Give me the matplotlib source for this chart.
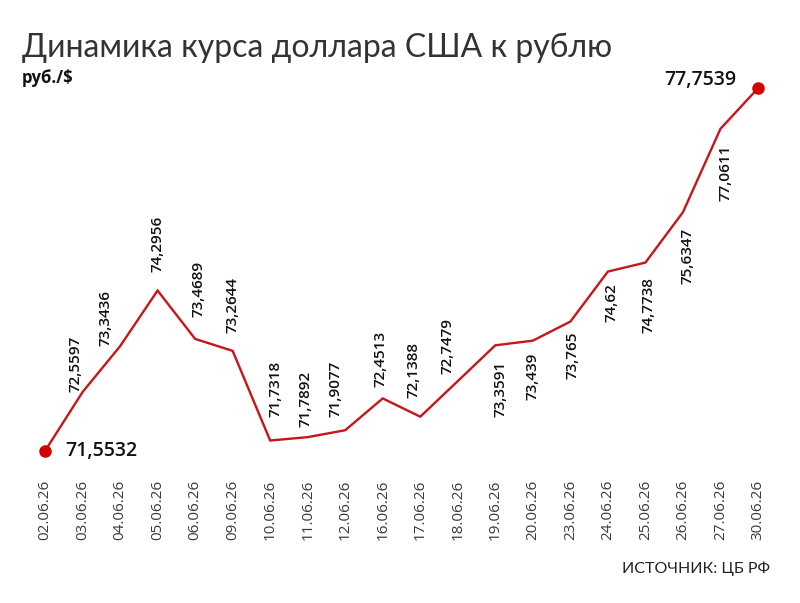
import matplotlib
matplotlib.use('Agg')
import matplotlib.pyplot as plt

dates = ['02.06.26', '03.06.26', '04.06.26', '05.06.26', '06.06.26', '09.06.26',
         '10.06.26', '11.06.26', '12.06.26', '16.06.26', '17.06.26', '18.06.26',
         '19.06.26', '20.06.26', '23.06.26', '24.06.26', '25.06.26', '26.06.26',
         '27.06.26', '30.06.26']
rates = [71.5532, 72.5597, 73.3436, 74.2956, 73.4689, 73.2644,
         71.7318, 71.7892, 71.9077, 72.4513, 72.1388, 72.7479,
         73.3591, 73.439, 73.765, 74.62, 74.7738, 75.6347,
         77.0611, 77.7539]
label_texts = ['71,5532', '72,5597', '73,3436', '74,2956', '73,4689', '73,2644',
               '71,7318', '71,7892', '71,9077', '72,4513', '72,1388', '72,7479',
               '73,3591', '73,439', '73,765', '74,62', '74,7738', '75,6347',
               '77,0611', '77,7539']

# label offsets in pixels (dx, dy) for the rotated value labels
offsets = [None, (-7, 0), (-15, 0), (0, 19), (3, 22), (0, 18),
           (5, 24), (-2, 10), (-10, 13), (-2, 11), (-7, 19), (-10, 7),
           (5, -15), (0, -12), (2, -10), (4, -12), (3, -15), (5, -16),
           (5, -16), None]

RED = '#c8141a'

fig = plt.figure(figsize=(8, 6.03), dpi=100)
ax = fig.add_axes([0.0375, 0.2206, 0.92875, 0.6633])

x = list(range(len(dates)))
ax.plot(x, rates, color=RED, linewidth=1.7, solid_joinstyle='miter')
ax.plot([x[0], x[-1]], [rates[0], rates[-1]], 'o', color='#d40000', markersize=8)

ax.set_xlim(-0.4, 19.4)
ax.set_ylim(71.228, 78.066)
for s in ax.spines.values():
    s.set_visible(False)
ax.set_yticks([])
ax.set_xticks(x)
ax.set_xticklabels(dates, rotation=90, fontsize=11, color='#3a3a3a',
                   fontfamily=['Open Sans', 'DejaVu Sans'])
ax.tick_params(axis='x', length=0, pad=7)

lab_font = ['Open Sans', 'DejaVu Sans']
for i, (xi, v, t) in enumerate(zip(x, rates, label_texts)):
    if i == 0:
        ax.annotate(t, (xi, v), xytext=(20, 0), textcoords='offset pixels',
                    ha='left', va='center', fontsize=14, fontweight='semibold',
                    fontfamily=lab_font, color='#111')
    elif i == len(x) - 1:
        ax.annotate(t, (xi, v), xytext=(-22, 8), textcoords='offset pixels',
                    ha='right', va='center', fontsize=14, fontweight='semibold',
                    fontfamily=lab_font, color='#111')
    else:
        dx, dy = offsets[i]
        ax.annotate(t, (xi, v), xytext=(dx, dy), textcoords='offset pixels',
                    rotation=90, ha='center', va='bottom' if dy >= 0 else 'top',
                    fontsize=11, fontweight='semibold', fontfamily=lab_font, color='#111')

fig.text(22 / 800, 1 - 57 / 603, 'Динамика курса доллара США к рублю',
         fontsize=23, fontfamily=['Lato', 'DejaVu Sans'], fontweight='normal',
         color='#333', va='baseline', ha='left')
fig.text(22 / 800, 1 - 83 / 603, 'руб./$', fontsize=12, fontweight='bold',
         fontfamily=['Open Sans', 'DejaVu Sans'], color='#111', va='baseline', ha='left')
fig.text(770 / 800, 1 - 573 / 603, 'ИСТОЧНИК: ЦБ РФ', fontsize=11.5,
         fontfamily=['Lato', 'DejaVu Sans'], color='#222',
         va='baseline', ha='right')

fig.savefig('out.png', dpi=100, facecolor='white')
